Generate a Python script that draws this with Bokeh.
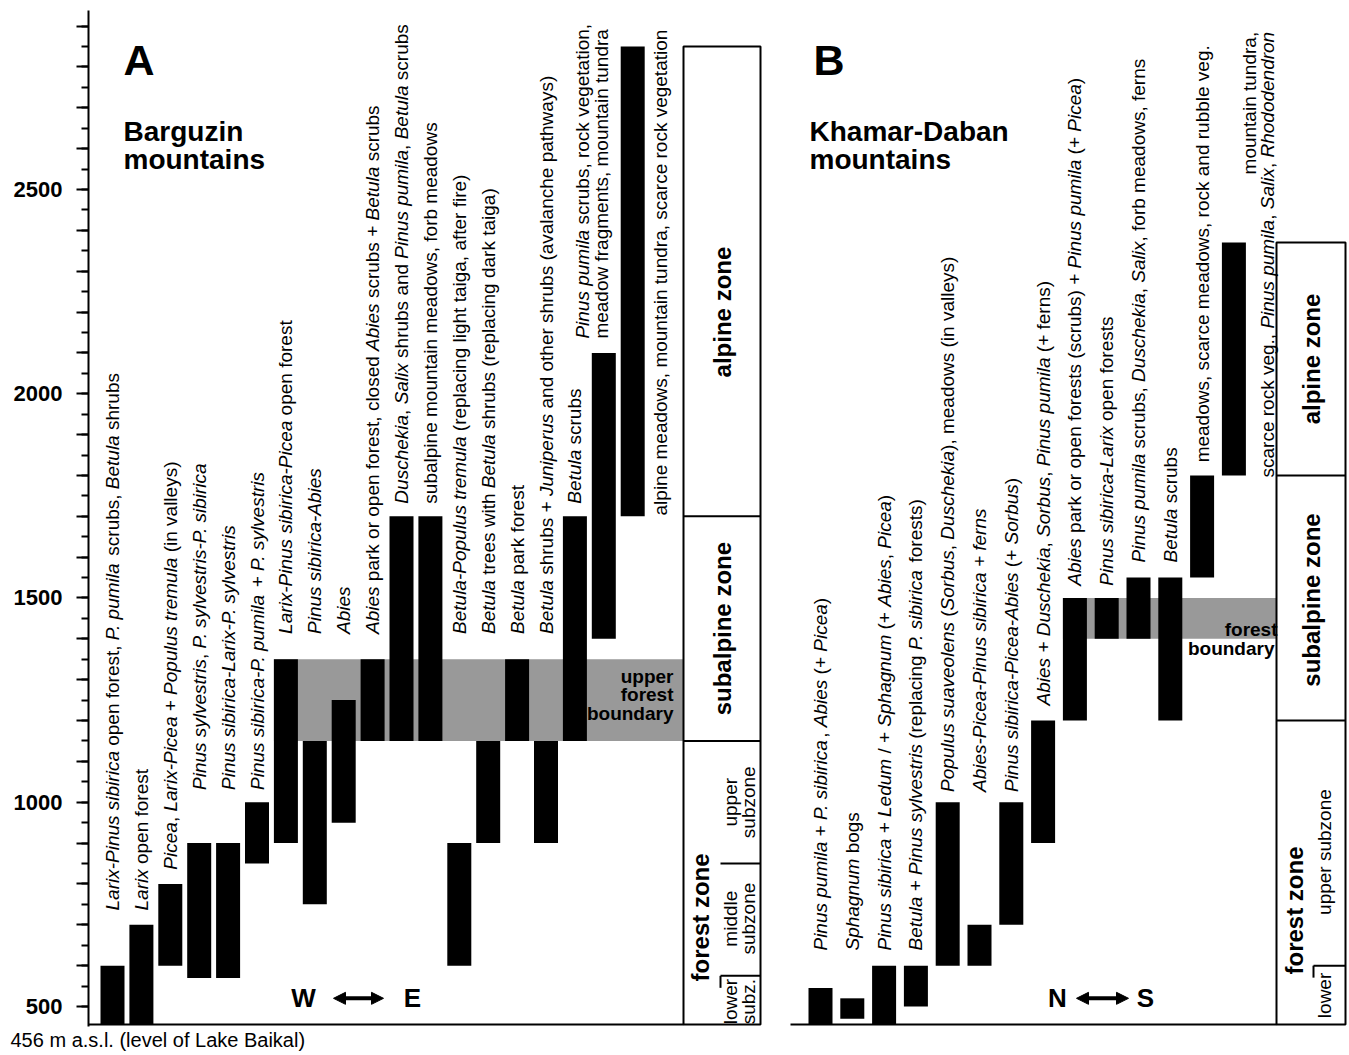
import math
from bokeh.plotting import figure
from bokeh.models import Range1d, FixedTicker, Arrow, NormalHead, Title
from bokeh.core.properties import value
from bokeh.embed import file_html
from bokeh.resources import INLINE

# ---------------- data (elevations in m a.s.l.) ----------------
a_bottom = [456, 456, 600, 570, 570, 850, 900, 750, 950, 1150, 1150, 1150, 600, 900, 1150, 900, 1150, 1400, 1700]
a_top = [600, 700, 800, 900, 900, 1000, 1350, 1150, 1250, 1350, 1700, 1700, 900, 1150, 1350, 1150, 1700, 2100, 2850]
a_labels = [
    "_Larix-Pinus sibirica_ open forest, _P. pumila_ scrubs, _Betula_ shrubs",
    "_Larix_ open forest",
    "_Picea_, _Larix-Picea_ + _Populus tremula_ (in valleys)",
    "_Pinus sylvestris_, _P. sylvestris-P. sibirica_",
    "_Pinus sibirica-Larix-P. sylvestris_",
    "_Pinus sibirica-P. pumila_ + _P. sylvestris_",
    "_Larix-Pinus sibirica-Picea_ open forest",
    "_Pinus sibirica-Abies_",
    "_Abies_",
    "_Abies_ park or open forest, closed _Abies_ scrubs + _Betula_ scrubs",
    "_Duschekia_, _Salix_ shrubs and _Pinus pumila_, _Betula_ scrubs",
    "subalpine mountain meadows, forb meadows",
    "_Betula-Populus tremula_ (replacing light taiga, after fire)",
    "_Betula_ trees with _Betula_ shrubs (replacing dark taiga)",
    "_Betula_ park forest",
    "_Betula_ shrubs + _Juniperus_ and other shrubs (avalanche pathways)",
    "_Betula_ scrubs",
    "_Pinus pumila_ scrubs, rock vegetation,|meadow fragments, mountain tundra",
    "alpine meadows, mountain tundra, scarce rock vegetation",
]
b_bottom = [456, 470, 456, 500, 600, 600, 700, 900, 1200, 1400, 1400, 1200, 1550, 1800]
b_top = [545, 520, 600, 600, 1000, 700, 1000, 1200, 1500, 1500, 1550, 1550, 1800, 2370]
b_labels = [
    "_Pinus pumila_ + _P. sibirica_, _Abies_ (+ _Picea_)",
    "_Sphagnum_ bogs",
    "_Pinus sibirica_ + _Ledum_ / + _Sphagnum_ (+ _Abies_, _Picea_)",
    "_Betula_ + _Pinus sylvestris_ (replacing _P. sibirica_ forests)",
    "_Populus suaveolens_ (_Sorbus_, _Duschekia_), meadows (in valleys)",
    "_Abies-Picea-Pinus sibirica + ferns_",
    "_Pinus sibirica-Picea-Abies_ (+ _Sorbus_)",
    "_Abies_ + _Duschekia_, _Sorbus_, _Pinus pumila_ (+ ferns)",
    "_Abies_ park or open forests (scrubs) + _Pinus pumila_ (+ _Picea_)",
    "_Pinus sibirica-Larix_ open forests",
    "_Pinus pumila_ scrubs, _Duschekia_, _Salix_, forb meadows, ferns",
    "_Betula_ scrubs",
    "meadows, scarce meadows, rock and rubble veg.",
    "mountain tundra,|scarce rock veg., _Pinus pumila_, _Salix_, _Rhododendron_",
]
a_zone_bounds = [456, 1150, 1700, 2850]
a_subzone_bounds = [456, 575, 850, 1150]
b_zone_bounds = [456, 1200, 1800, 2370]
b_subzone_bounds = [456, 600, 1200]
a_forest_boundary = [1150, 1350]
b_forest_boundary = [1400, 1500]
y_ticks = list(range(500, 2901, 100))
y_minor = list(range(500, 2951, 50))
caption = "456 m a.s.l. (level of Lake Baikal)"

# ---------------- layout ----------------
FONT = value("Liberation Sans")
BL, BT, BB = 88, 10, 26
FRAME_W = 1260
FRAME_H = 1016
W_FIG = BL + FRAME_W
H_FIG = BT + FRAME_H + BB
Y0, Y1 = 451.0, 2938.2
PXM = FRAME_H / (Y1 - Y0)
LBL = 19

A_X0, A_PITCH = 24.0, 28.9
B_X0, B_PITCH = 732.0, 31.8
BAR_W = 24
A_COL = (595, 672)
B_COL = (1188, 1257)

a_base = [735, 735, 835, 1030, 1030, 1030, 1412, 1412, 1412, 1412, 1731, 1731, 1412, 1412, 1412, 1412, 1731, 2135, 1702]
b_base = [637, 637, 637, 637, 1025, 1025, 1025, 1237, 1530, 1530, 1587, 1587, 1832, 1795]
a_line_dx = {17: [-21, -2], 18: [28]}
b_line_dx = {13: [16, 34]}
b_align = {13: "top"}

WID = {' ': 278, '!': 278, '"': 355, '#': 556, '$': 556, '%': 889, '&': 667, "'": 191, '(': 333, ')': 333,
       '*': 389, '+': 584, ',': 278, '-': 333, '.': 278, '/': 278, ':': 278, ';': 278, '?': 556}
for ch, w in zip("ABCDEFGHIJKLMNOPQRSTUVWXYZ",
                 [667, 667, 722, 722, 667, 611, 778, 722, 278, 500, 667, 556, 833, 722, 778, 667, 778, 722, 667, 611, 722, 667, 944, 667, 667, 611]):
    WID[ch] = w
for ch, w in zip("abcdefghijklmnopqrstuvwxyz",
                 [556, 556, 500, 556, 556, 278, 556, 556, 222, 222, 500, 222, 833, 556, 556, 556, 556, 333, 500, 278, 556, 500, 722, 500, 500, 500]):
    WID[ch] = w
for ch in "0123456789":
    WID[ch] = 556


def tw(s, size):
    return sum(WID.get(c, 556) for c in s) * size / 1000.0


segs = {"normal": ([], [], []), "italic": ([], [], [])}


def put_label(x, base, txt, size=LBL):
    off = 0.0
    for k, part in enumerate(txt.split("_")):
        style = "italic" if k % 2 else "normal"
        lead = len(part) - len(part.lstrip(" "))
        off += tw(part[:lead], size)
        core = part.strip(" ")
        if core:
            xs, ys, ts = segs[style]
            xs.append(x)
            ys.append(base + off / PXM)
            ts.append(core)
        off += tw(part[lead:], size)


def panel_labels(centers, labels, bases, line_dx, aligns):
    for i, (c, lab, b) in enumerate(zip(centers, labels, bases)):
        lines = lab.split("|")
        dxs = line_dx.get(i, [0] * len(lines))
        if aligns.get(i) == "top":
            top = b + max(tw(l.replace("_", ""), LBL) for l in lines) / PXM
            for l, dx in zip(lines, dxs):
                put_label(c + dx, top - tw(l.replace("_", ""), LBL) / PXM, l)
        else:
            for l, dx in zip(lines, dxs):
                put_label(c + dx, b, l)


a_x = [A_X0 + i * A_PITCH for i in range(len(a_top))]
b_x = [B_X0 + j * B_PITCH for j in range(len(b_top))]

p = figure(width=W_FIG, height=H_FIG, x_range=Range1d(0, FRAME_W), y_range=Range1d(Y0, Y1),
           output_backend="svg", toolbar_location=None, x_axis_location=None, y_axis_location="left",
           min_border_left=BL, min_border_right=0, min_border_top=BT, min_border_bottom=BB)
p.outline_line_color = None
p.grid.visible = False
p.background_fill_color = "white"
p.border_fill_color = "white"

ax = p.yaxis[0]
ax.ticker = FixedTicker(ticks=y_ticks, minor_ticks=y_minor)
ax.major_label_overrides = {t: "" for t in y_ticks if t % 500 != 0}
ax.axis_line_width = 2
ax.major_tick_line_width = 2
ax.minor_tick_line_width = 2
ax.major_tick_out = 12
ax.major_tick_in = 0
ax.minor_tick_out = 7
ax.minor_tick_in = 0
ax.major_label_standoff = 14
ax.major_label_text_font = "Liberation Sans"
ax.major_label_text_font_size = "22px"
ax.major_label_text_font_style = "bold"
ax.major_label_text_color = "black"

GRAY = "#999999"
# forest boundary bands
p.quad(left=[a_x[6] - BAR_W / 2], right=[A_COL[0]], bottom=[a_forest_boundary[0]], top=[a_forest_boundary[1]],
       fill_color=GRAY, line_color=None)
p.quad(left=[b_x[8] - BAR_W / 2], right=[B_COL[0]], bottom=[b_forest_boundary[0]], top=[b_forest_boundary[1]],
       fill_color=GRAY, line_color=None)

# bars
p.vbar(x=a_x, width=BAR_W, bottom=a_bottom, top=a_top, fill_color="black", line_color=None)
p.vbar(x=b_x, width=BAR_W, bottom=b_bottom, top=b_top, fill_color="black", line_color=None)

# baselines
p.segment(x0=[0, 702], y0=[a_zone_bounds[0], b_zone_bounds[0]], x1=[A_COL[0], B_COL[0]],
          y1=[a_zone_bounds[0], b_zone_bounds[0]], line_color="black", line_width=2)

# zone columns
for col, zb in ((A_COL, a_zone_bounds), (B_COL, b_zone_bounds)):
    p.quad(left=[col[0]], right=[col[1]], bottom=[zb[0]], top=[zb[-1]], fill_color=None,
           line_color="black", line_width=2)
    inner = zb[1:-1]
    p.segment(x0=[col[0]] * len(inner), y0=inner, x1=[col[1]] * len(inner), y1=inner,
              line_color="black", line_width=2)

sx_a = A_COL[0] + 37
p.segment(x0=[sx_a, sx_a], y0=a_subzone_bounds[1:3], x1=[A_COL[1], A_COL[1]], y1=a_subzone_bounds[1:3],
          line_color="black", line_width=2)
p.segment(x0=[sx_a], y0=[a_subzone_bounds[1]], x1=[sx_a], y1=[a_subzone_bounds[1] - 12 / PXM],
          line_color="black", line_width=2)
sx_b = B_COL[0] + 37
p.segment(x0=[sx_b], y0=[b_subzone_bounds[1]], x1=[B_COL[1]], y1=[b_subzone_bounds[1]],
          line_color="black", line_width=2)
p.segment(x0=[sx_b], y0=[b_subzone_bounds[1]], x1=[sx_b], y1=[b_subzone_bounds[1] - 12 / PXM],
          line_color="black", line_width=2)

# vegetation labels
panel_labels(a_x, a_labels, a_base, a_line_dx, {})
panel_labels(b_x, b_labels, b_base, b_line_dx, b_align)
for style, (xs, ys, ts) in segs.items():
    p.text(x=xs, y=ys, text=ts, angle=math.pi / 2, text_align="left", text_baseline="middle",
           text_font=FONT, text_font_size=f"{LBL}px", text_font_style=style, text_color="black")


def txt(x, y, s, size, style="normal", align="center", baseline="middle", angle=0.0):
    p.text(x=[x], y=[y], text=[s], angle=angle, text_align=align, text_baseline=baseline,
           text_font=FONT, text_font_size=f"{size}px", text_font_style=style, text_color="black")


R = math.pi / 2
ca = (A_COL[0] + A_COL[1]) / 2
cb = (B_COL[0] + B_COL[1]) / 2
txt(ca, 2200, "alpine zone", 24, "bold", angle=R)
txt(ca, (a_zone_bounds[1] + a_zone_bounds[2]) / 2, "subalpine zone", 24, "bold", angle=R)
txt(A_COL[0] + 17, 718, "forest zone", 24, "bold", angle=R)
for yy, l1, l2 in ((1000, "upper", "subzone"), (715, "middle", "subzone"), (512, "lower", "subz.")):
    txt(A_COL[0] + 47, yy, l1, LBL, angle=R)
    txt(A_COL[0] + 65, yy, l2, LBL, angle=R)
txt(cb, (b_zone_bounds[2] + b_zone_bounds[3]) / 2, "alpine zone", 24, "bold", angle=R)
txt(cb, 1495, "subalpine zone", 24, "bold", angle=R)
txt(B_COL[0] + 18, 735, "forest zone", 24, "bold", angle=R)
txt(B_COL[0] + 48, 878, "upper subzone", LBL, angle=R)
txt(B_COL[0] + 48, 527, "lower", LBL, angle=R)

# forest boundary texts
for yy, s in ((1308, "upper"), (1264, "forest"), (1217, "boundary")):
    txt(A_COL[0] - 10, yy, s, 19, "bold", align="right")
txt(B_COL[0] + 1, 1423, "forest", 19, "bold", align="right")
txt(B_COL[0] - 2, 1376, "boundary", 19, "bold", align="right")

# titles
txt(35, 2816, "A", 43, "bold", align="left", baseline="alphabetic")
txt(35, 2642, "Barguzin", 28, "bold", align="left", baseline="alphabetic")
txt(35, 2573, "mountains", 28, "bold", align="left", baseline="alphabetic")
txt(725, 2816, "B", 43, "bold", align="left", baseline="alphabetic")
txt(721, 2642, "Khamar-Daban", 28, "bold", align="left", baseline="alphabetic")
txt(721, 2573, "mountains", 28, "bold", align="left", baseline="alphabetic")

# direction arrows
for (xl, xa0, xa1, xr, s0, s1) in ((215, 245, 295, 324, "W", "E"), (969, 988, 1040, 1057, "N", "S")):
    txt(xl, 520, s0, 26, "bold")
    txt(xr, 520, s1, 26, "bold")
    p.add_layout(Arrow(x_start=xa0, y_start=520, x_end=xa1, y_end=520, line_width=4, line_color="black",
                       start=NormalHead(size=12, fill_color="black", line_color="black"),
                       end=NormalHead(size=12, fill_color="black", line_color="black")))

# caption under the axis
cap = Title(text=caption, align="left", offset=-78, standoff=0, text_font="Liberation Sans",
            text_font_size="20px", text_font_style="normal", text_color="black")
p.add_layout(cap, "below")

open("out.html", "w").write(file_html(p, INLINE))
